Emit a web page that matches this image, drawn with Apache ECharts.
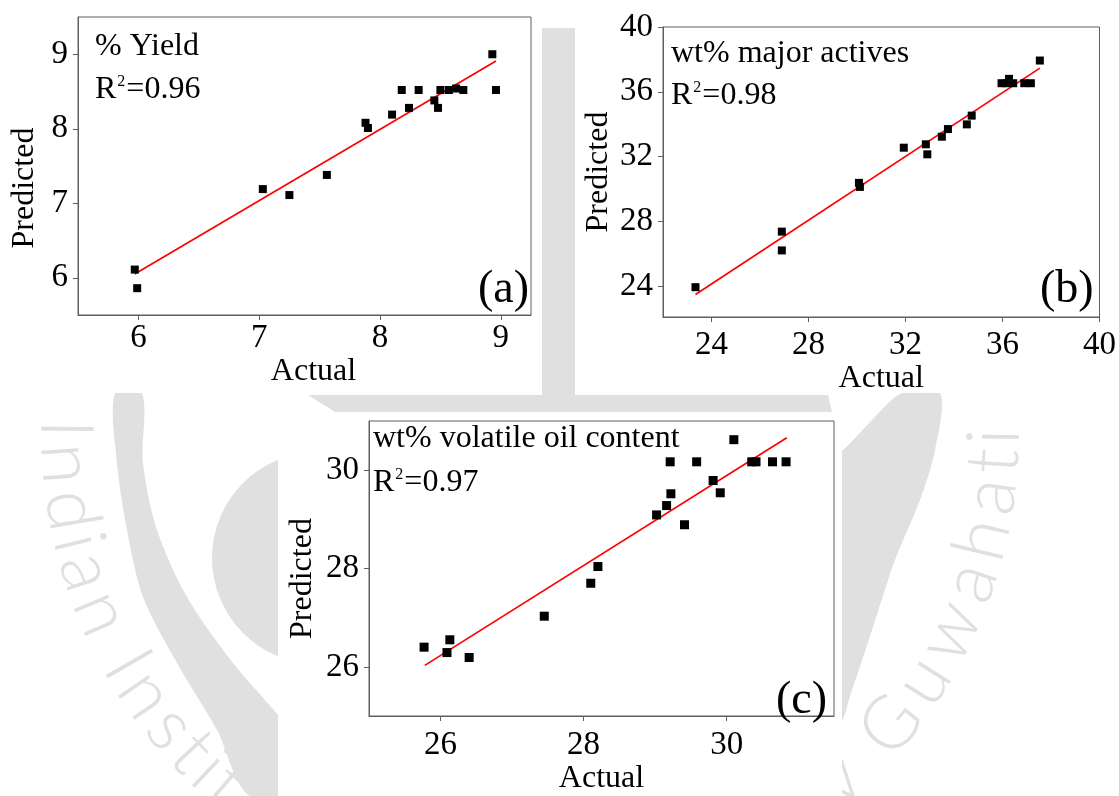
<!DOCTYPE html>
<html>
<head>
<meta charset="utf-8">
<title>Actual vs Predicted</title>
<script src="https://cdn.jsdelivr.net/npm/echarts@6/dist/echarts.min.js"></script>
<style>
  html, body { margin: 0; padding: 0; background: #fff; }
  #chart { width: 1119px; height: 796px; }
</style>
</head>
<body>
<div id="chart"></div>
<script>
// ---------- (a) % Yield ----------
const yieldActual    = [8.93, 8.96, 8.18, 8.32, 8.50, 8.57, 8.63, 8.69, 8.24, 8.45, 8.48, 8.10, 7.88, 7.90, 7.56, 7.03, 7.25, 5.97, 5.99];
const yieldPredicted = [9.00, 8.52, 8.52, 8.52, 8.52, 8.52, 8.54, 8.52, 8.28, 8.38, 8.28, 8.19, 8.08, 8.01, 7.38, 7.19, 7.11, 6.11, 5.86];
const yieldFitActual    = [5.97, 8.96];
const yieldFitPredicted = [6.05, 8.91];
const yieldTicks = [6, 7, 8, 9];

// ---------- (b) wt% major actives ----------
const activesActual    = [23.34, 26.90, 26.90, 30.08, 30.12, 31.93, 32.84, 32.90, 33.50, 33.75, 34.53, 34.73, 35.96, 36.27, 36.44, 36.17, 36.90, 37.17, 37.54];
const activesPredicted = [23.94, 27.37, 26.21, 30.38, 30.13, 32.55, 32.76, 32.14, 33.23, 33.70, 33.99, 34.53, 36.53, 36.80, 36.53, 36.53, 36.53, 36.53, 37.93];
const activesFitActual    = [23.34, 37.54];
const activesFitPredicted = [23.49, 37.46];
const activesTicks = [24, 28, 32, 36, 40];

// ---------- (c) wt% volatile oil content ----------
const oilActual    = [25.77, 26.13, 26.09, 26.40, 27.45, 28.10, 28.20, 29.02, 29.16, 29.22, 29.21, 29.41, 29.58, 29.81, 29.91, 30.10, 30.35, 30.41, 30.64, 30.83];
const oilPredicted = [26.40, 26.55, 26.29, 26.19, 27.03, 27.70, 28.04, 29.09, 29.28, 29.52, 30.17, 28.89, 30.17, 29.79, 29.54, 30.62, 30.17, 30.17, 30.17, 30.17];
const oilFitActual    = [25.78, 30.84];
const oilFitPredicted = [26.03, 30.66];
const oilTicks = [26, 28, 30];

// panel captions
const panelTitles = ['% Yield', 'wt% major actives', 'wt% volatile oil content'];
const panelR2     = ['0.96', '0.98', '0.97'];
const panelTags   = ['(a)', '(b)', '(c)'];

const SERIF = '"Liberation Serif", "Times New Roman", serif';
const FRAME = '#5e5e5e';
const SHADE = '#e0e0e0';

const pairs = (xs, ys) => xs.map((x, i) => [x, ys[i]]);

function makeAxis(gridIndex, min, max, ticks, name, gap, pad, margin, fs) {
  return {
    type: 'value', gridIndex, min, max,
    name, nameLocation: 'middle', nameGap: gap,
    nameTextStyle: { fontFamily: SERIF, fontSize: 32, color: '#000', padding: pad },
    axisLine: { show: true, onZero: false, lineStyle: { color: FRAME, width: 1 } },
    axisTick: { show: true, inside: false, length: 5, customValues: ticks, lineStyle: { color: FRAME, width: 1 } },
    axisLabel: { show: true, customValues: ticks, margin, color: '#000', fontFamily: SERIF, fontSize: fs },
    splitLine: { show: false }
  };
}

// ---------- faint seal in the background ----------
const sealText = 'Indian Institute of Technology Guwahati';
function sealLetters() {
  const cx = 530, cy = 432, r = 465, startDeg = 180.4, endDeg = 0.6;
  const font = '300 74px Lato, "Noto Sans", sans-serif';
  const ctx = document.createElement('canvas').getContext('2d');
  ctx.font = font;
  const chars = Array.from(sealText);
  const widths = chars.map(ch => ctx.measureText(ch).width);
  let acc = 0;
  const centres = widths.map(w => { const c = acc + w / 2; acc += w; return c; });
  const span = centres[centres.length - 1] - centres[0];
  return chars.map((ch, i) => {
    const deg = startDeg + (endDeg - startDeg) * (centres[i] - centres[0]) / span;
    const a = deg * Math.PI / 180;
    return {
      type: 'text', silent: true, z: -20,
      x: cx + r * Math.cos(a), y: cy + r * Math.sin(a),
      rotation: (90 - deg) * Math.PI / 180,
      style: { text: ch, font, fill: SHADE, align: 'center', verticalAlign: 'middle' }
    };
  });
}

const sealShapes = [
  { type: 'rect', shape: { x: 542, y: 28, width: 33, height: 384 } },
  { type: 'polygon', shape: { points: [[308, 395], [828, 395], [832, 412], [335, 412]] } },
  { type: 'polygon', shape: { smooth: 0.3, points: [
      [115, 393], [117, 463], [127, 530], [143, 597], [177, 663], [217, 730], [250, 796],
      [330, 796], [290, 730], [233, 663], [187, 597], [157, 530], [143, 463], [142, 393]] } },
  { type: 'circle', shape: { cx: 318, cy: 558, r: 106 } },
  { type: 'polygon', shape: { smooth: 0.3, points: [
      [902, 393], [940, 393], [935, 450], [920, 500], [895, 560], [872, 630], [852, 690], [836, 730],
      [800, 730], [800, 480], [843, 450], [872, 420]] } }
].map(s => Object.assign(s, { silent: true, z: -20, style: { fill: SHADE } }));

// white backing behind each panel
const panelBacks = [
  { x: 0, y: 0, width: 542, height: 393 },
  { x: 575, y: 0, width: 544, height: 393 },
  { x: 278, y: 412, width: 564, height: 384 }
].map(sh => ({ type: 'rect', silent: true, z: -10, shape: sh, style: { fill: '#fff' } }));

// captions: title, R² line, panel tag
function captions(i, x, yTitle, yR2, tagX, tagY) {
  return [
    { type: 'text', z: 10, x, y: yTitle,
      style: { text: panelTitles[i], font: `32px ${SERIF}`, fill: '#000', verticalAlign: 'middle' } },
    { type: 'text', z: 10, x, y: yR2,
      style: {
        text: `{r|R}{s|2}{r|=${panelR2[i]}}`, verticalAlign: 'middle',
        rich: {
          r: { fontFamily: SERIF, fontSize: 32, lineHeight: 32, fill: '#000' },
          s: { fontFamily: SERIF, fontSize: 16, lineHeight: 16, fill: '#000', verticalAlign: 'top', padding: [0, 1, 0, 1] }
        }
      } },
    { type: 'text', z: 10, x: tagX, y: tagY,
      style: { text: panelTags[i], font: `46px ${SERIF}`, fill: '#000', verticalAlign: 'middle' } }
  ];
}

const scatterSeries = (i, xs, ys, size) => ({
  type: 'scatter', xAxisIndex: i, yAxisIndex: i, data: pairs(xs, ys),
  symbol: 'rect', symbolSize: size, itemStyle: { color: '#000', opacity: 1 }, z: 4
});
const fitSeries = (i, xs, ys) => ({
  type: 'line', xAxisIndex: i, yAxisIndex: i, data: pairs(xs, ys),
  symbol: 'none', lineStyle: { color: '#ff0000', width: 1.7 }, z: 3
});

const chart = echarts.init(document.getElementById('chart'), null, { renderer: 'canvas' });
chart.setOption({
  animation: false,
  backgroundColor: '#fff',
  grid: [
    { left: 78, top: 17, width: 453, height: 298 },
    { left: 663, top: 27, width: 439, height: 290 },
    { left: 369, top: 421, width: 465, height: 305 }
  ].map(g => Object.assign(g, { show: true, borderColor: FRAME, borderWidth: 1, backgroundColor: 'transparent', containLabel: false })),
  xAxis: [
    makeAxis(0, 5.5, 9.25, yieldTicks, 'Actual', 40, [0, 0, 0, 18], 7, 33),
    makeAxis(1, 22, 40, activesTicks, 'Actual', 43, [0, 0, 0, 0], 12, 33),
    makeAxis(2, 25, 31.5, oilTicks, 'Actual', 47, [0, 0, 0, 0], 13, 33)
  ],
  yAxis: [
    makeAxis(0, 5.5, 9.5, yieldTicks, 'Predicted', 37, [0, 44, 0, 0], 10, 33),
    makeAxis(1, 22.1, 40, activesTicks, 'Predicted', 48, [0, 0, 0, 0], 10, 33),
    makeAxis(2, 25, 31, oilTicks, 'Predicted', 50, [0, 20, 0, 0], 10, 33)
  ],
  series: [
    fitSeries(0, yieldFitActual, yieldFitPredicted),
    scatterSeries(0, yieldActual, yieldPredicted, 8),
    fitSeries(1, activesFitActual, activesFitPredicted),
    scatterSeries(1, activesActual, activesPredicted, 8),
    fitSeries(2, oilFitActual, oilFitPredicted),
    scatterSeries(2, oilActual, oilPredicted, 9)
  ],
  graphic: [].concat(
    sealShapes,
    sealLetters(),
    panelBacks,
    captions(0, 95, 47, 90, 478, 290),
    captions(1, 671, 54, 96, 1040, 290),
    captions(2, 373, 439, 483, 776, 701)
  )
});
</script>
</body>
</html>
